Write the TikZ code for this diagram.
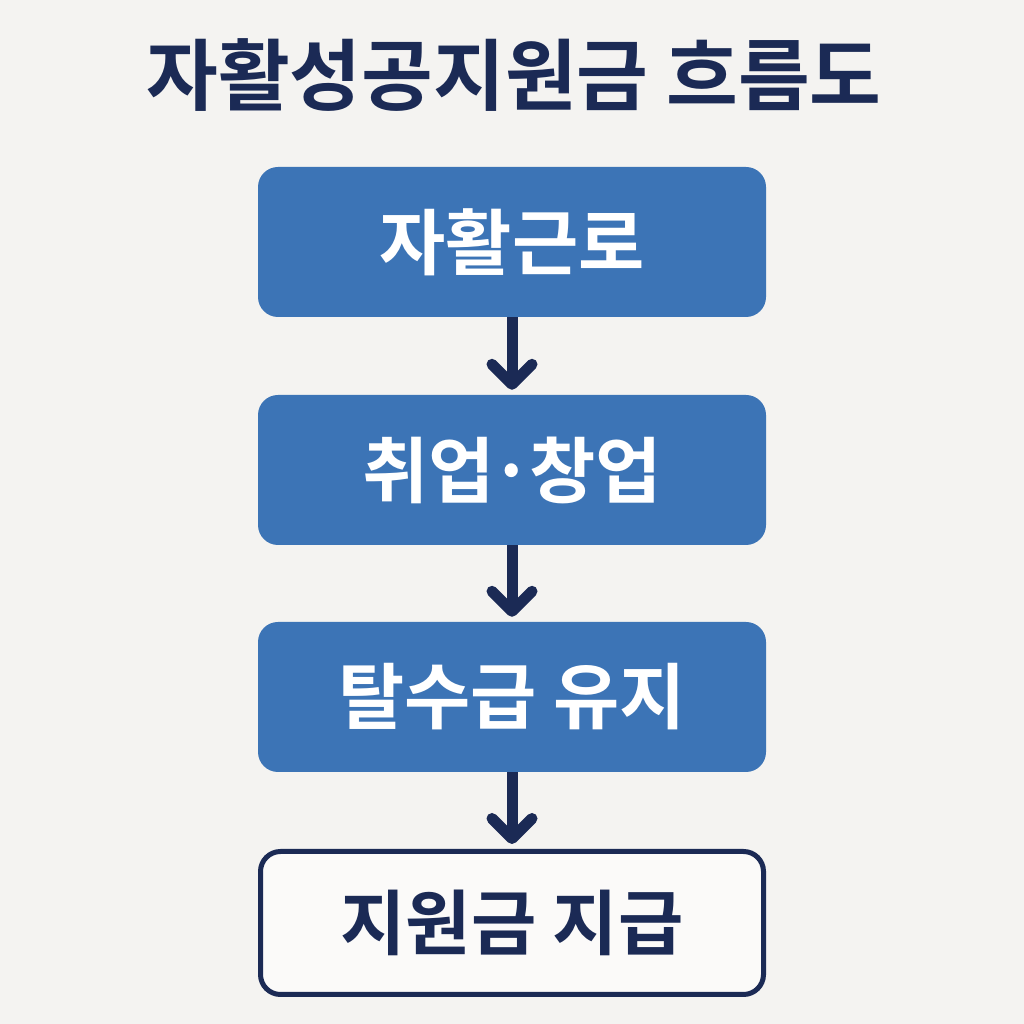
\documentclass[tikz,border=0pt]{standalone}
\usepackage{fontspec}
\newfontfamily\krfont{Noto Sans CJK KR Bold}
\usetikzlibrary{arrows.meta}
\definecolor{bgc}{HTML}{F4F3F1}
\definecolor{navy}{HTML}{1B2A55}
\definecolor{boxblue}{HTML}{3C74B6}
\tikzset{
  bluebox/.style={draw=none, fill=boxblue, rounded corners=20pt, minimum width=508pt, minimum height=150pt, inner sep=0pt, text=white, font=\krfont\fontsize{72}{72}\selectfont},
  whitebox/.style={draw=navy, line width=5pt, fill=white!60!bgc, rounded corners=20pt, minimum width=503pt, minimum height=143pt, inner sep=0pt, text=navy, font=\krfont\fontsize{71}{71}\selectfont},
  conn/.style={draw=navy, line width=11pt, -{Straight Barb[round, length=20pt, width=40pt]}, shorten >=5pt}
}
\begin{document}
\begin{tikzpicture}[x=1pt,y=1pt]
\fill[bgc] (0,0) rectangle (1024,1024);
\useasboundingbox (0,0) rectangle (1024,1024);
\node[text=navy, font=\krfont\fontsize{78}{78}\selectfont, inner sep=0pt] (title) at (514,949) {자활성공지원금 흐름도};
\node[bluebox] (b1) at (512,782) {자활근로};
\node[bluebox] (b2) at (512,554) {취업\kern-4pt·\kern-4pt창업};
\node[bluebox] (b3) at (512,327) {탈수급 유지};
\node[whitebox] (b4) at (512,101) {지원금 지급};
\draw[conn] (b1.south) -- (b2.north);
\draw[conn] (b2.south) -- (b3.north);
\draw[conn] (b3.south) -- (b4.north);
\end{tikzpicture}
\end{document}
